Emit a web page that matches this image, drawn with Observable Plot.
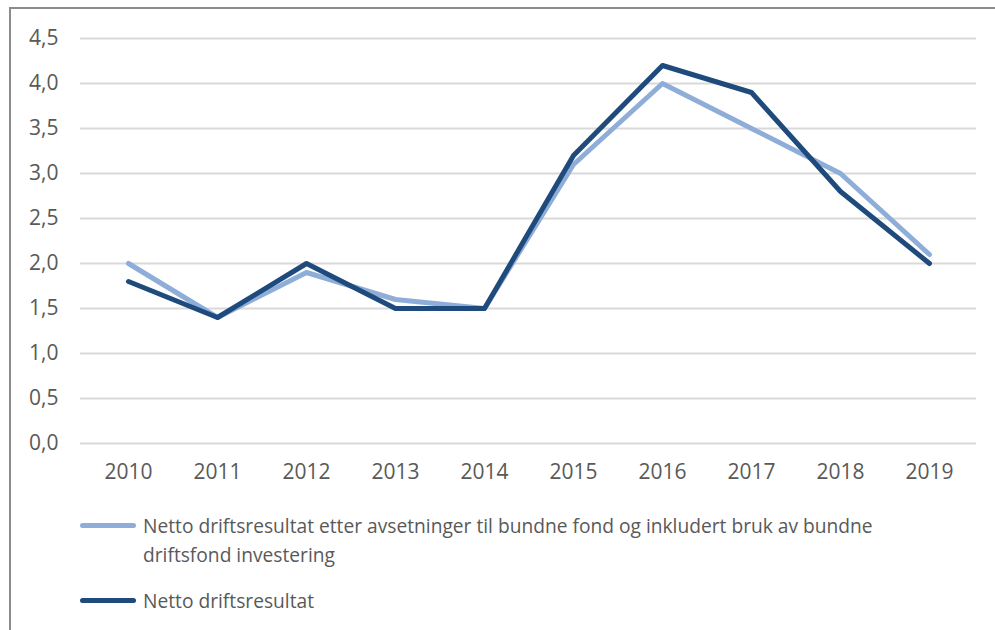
<!DOCTYPE html>
<html>
<head>
<meta charset="utf-8">
<script src="https://cdn.jsdelivr.net/npm/d3@7"></script>
<script src="https://cdn.jsdelivr.net/npm/@observablehq/plot@0.6"></script>
<style>
  html, body { margin: 0; padding: 0; background: #fff; width: 995px; height: 630px; overflow: hidden; }
  #frame { position: absolute; left: 9px; top: 7px; width: 1200px; height: 700px; border-left: 2px solid #8c8c8c; border-top: 2px solid #8c8c8c; }
  #chart { position: absolute; left: 0; top: 0; }
  .leg { position: absolute; left: 80px; font-family: "Open Sans", sans-serif; font-size: 19.2px; color: #595959; line-height: 29px; }
  .leg .sw { position: absolute; left: 0; top: 12px; width: 56px; height: 5px; border-radius: 3px; }
  .leg .tx { position: absolute; left: 63px; top: 0; white-space: nowrap; }
</style>
</head>
<body>
<div id="frame"></div>
<div id="chart"></div>
<div class="leg" id="leg1" style="top:511px"><div class="sw" style="background:#8FADD9"></div><div class="tx"></div></div>
<div class="leg" id="leg2" style="top:586px"><div class="sw" style="background:#1F4B7C"></div><div class="tx"></div></div>
<script>
const years = ["2010","2011","2012","2013","2014","2015","2016","2017","2018","2019"];
const seriesNames = [
  "Netto driftsresultat etter avsetninger til bundne fond og inkludert bruk av bundne driftsfond investering",
  "Netto driftsresultat"
];
const lightValues = [2.0, 1.4, 1.9, 1.6, 1.5, 3.1, 4.0, 3.5, 3.0, 2.1];
const darkValues  = [1.8, 1.4, 2.0, 1.5, 1.5, 3.2, 4.2, 3.9, 2.8, 2.0];
const yTicks = [0, 0.5, 1, 1.5, 2, 2.5, 3, 3.5, 4, 4.5];
const colors = ["#8FADD9", "#1F4B7C"];

const data = [];
years.forEach((y, i) => data.push({year: y, value: lightValues[i], series: seriesNames[0]}));
years.forEach((y, i) => data.push({year: y, value: darkValues[i], series: seriesNames[1]}));

const fmt = d => d.toFixed(1).replace(".", ",");

const plot = Plot.plot({
  width: 995,
  height: 500,
  marginLeft: 80,
  marginRight: 19,
  marginTop: 38,
  marginBottom: 57,
  style: {fontFamily: "Open Sans, sans-serif", fontSize: "21px", color: "#595959", background: "transparent"},
  x: {type: "point", domain: years, padding: 0.5, label: null, tickSize: 0, tickPadding: 21},
  y: {domain: [0, 4.5], ticks: yTicks, tickFormat: fmt, label: null, tickSize: 0, tickPadding: 22},
  color: {domain: seriesNames, range: colors},
  marks: [
    Plot.ruleY(yTicks, {stroke: "#d9d9d9", strokeWidth: 2}),
    Plot.axisX({tickSize: 0, tickPadding: 21, fill: "#595959"}),
    Plot.axisY({ticks: yTicks, tickFormat: fmt, tickSize: 0, tickPadding: 22, fill: "#595959"}),
    Plot.line(data, {x: "year", y: "value", stroke: "series", z: "series", strokeWidth: 5, strokeLinejoin: "round", strokeLinecap: "round"})
  ]
});
document.getElementById("chart").appendChild(plot);
document.querySelector("#leg1 .tx").innerHTML = "Netto driftsresultat etter avsetninger til bundne fond og inkludert bruk av bundne<br>driftsfond investering";
document.querySelector("#leg2 .tx").textContent = seriesNames[1];
</script>
</body>
</html>
